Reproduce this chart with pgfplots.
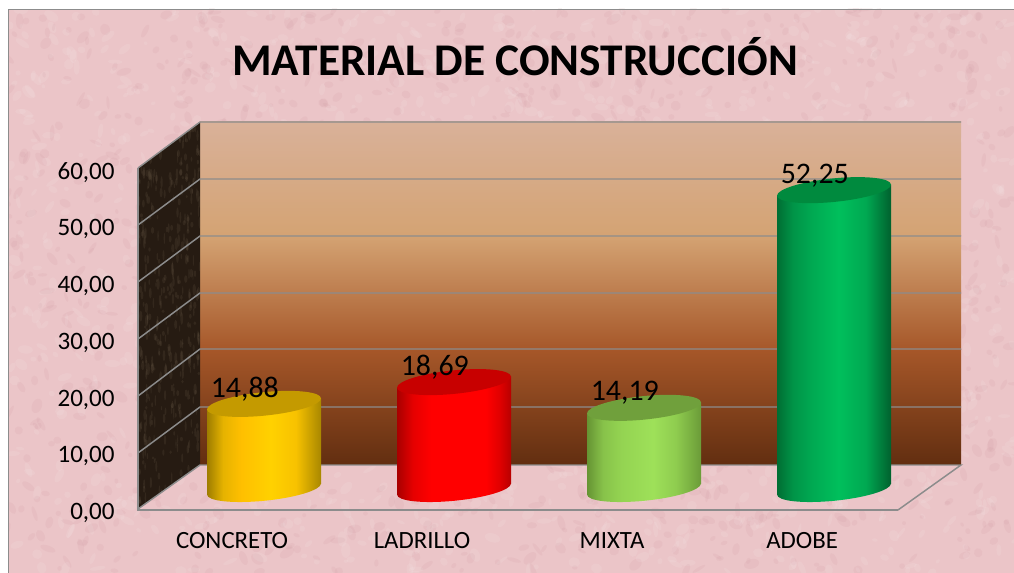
\documentclass[border=0pt]{standalone}
\usepackage{pgfplots}
\pgfplotsset{compat=1.18}
\usepackage{fontspec}
\setmainfont{Carlito}
\usetikzlibrary{shapes.geometric}
\definecolor{gridg}{HTML}{8C8C8C}
\definecolor{pinkbase}{HTML}{EBC5C8}
\definecolor{pinkdark}{HTML}{C48A92}
\definecolor{wallfleck}{HTML}{7A6A55}
\pgfdeclarehorizontalshading{cylgold}{100bp}{rgb(0bp)=(0.62,0.49,0);rgb(25bp)=(0.62,0.49,0);rgb(32bp)=(0.90,0.70,0);rgb(40bp)=(1,0.75,0);rgb(53bp)=(1,0.82,0);rgb(64bp)=(0.97,0.76,0);rgb(75bp)=(0.66,0.53,0);rgb(100bp)=(0.66,0.53,0)}
\pgfdeclarehorizontalshading{cylred}{100bp}{rgb(0bp)=(0.66,0,0);rgb(25bp)=(0.66,0,0);rgb(32bp)=(0.90,0,0);rgb(40bp)=(1,0,0);rgb(64bp)=(1,0,0);rgb(70bp)=(0.88,0,0);rgb(75bp)=(0.72,0,0);rgb(100bp)=(0.72,0,0)}
\pgfdeclarehorizontalshading{cyllime}{100bp}{rgb(0bp)=(0.40,0.58,0.20);rgb(25bp)=(0.40,0.58,0.20);rgb(32bp)=(0.53,0.76,0.29);rgb(40bp)=(0.58,0.83,0.32);rgb(54bp)=(0.62,0.88,0.35);rgb(64bp)=(0.56,0.80,0.31);rgb(75bp)=(0.42,0.61,0.22);rgb(100bp)=(0.42,0.61,0.22)}
\pgfdeclarehorizontalshading{cylgreen}{100bp}{rgb(0bp)=(0,0.43,0.20);rgb(25bp)=(0,0.43,0.20);rgb(32bp)=(0,0.58,0.28);rgb(40bp)=(0,0.66,0.32);rgb(52bp)=(0,0.75,0.36);rgb(64bp)=(0,0.66,0.32);rgb(75bp)=(0,0.38,0.18);rgb(100bp)=(0,0.38,0.18)}
\definecolor{capgold}{RGB}{196,154,0}
\definecolor{capred}{RGB}{200,0,0}
\definecolor{caplime}{RGB}{112,160,60}
\definecolor{capgreen}{RGB}{0,138,62}
\definecolor{wallA}{RGB}{217,177,153}
\definecolor{wallB}{RGB}{212,163,115}
\definecolor{wallC}{RGB}{166,87,41}
\definecolor{wallD}{RGB}{98,46,16}
\definecolor{wallL}{RGB}{38,27,18}
\pgfplotsset{
  body/.style 2 args={ybar, bar width=85.5pt, bar shift=0pt, draw=none, shade, shading=#1, yshift=-#2pt, yslant=0.0965, forget plot},
  bottomcap/.style 2 args={only marks, mark=none, forget plot, yshift=-#2pt, yslant=0.0965, nodes near coords={},
     every node near coord/.style={anchor=center, ellipse, inner sep=0pt, minimum width=85.5pt, minimum height=17.7pt, transform shape, shade, shading=#1, draw=none}},
  topcap/.style 2 args={only marks, mark=none, forget plot, yshift=-#2pt, yslant=0.0965, nodes near coords={},
     every node near coord/.style={anchor=center, ellipse, inner sep=0pt, minimum width=85.5pt, minimum height=17.7pt, transform shape, fill=#1, draw=none}},
  vallabel/.style={only marks, mark=none, forget plot, nodes near coords,
     /pgf/number format/fixed, /pgf/number format/fixed zerofill, /pgf/number format/precision=2, /pgf/number format/use comma,
     /pgf/number format/assume math mode=true,
     nodes near coords style={anchor=center, font=\fontsize{22.4}{24}\selectfont, text=black, xshift=-14.4pt, yshift=11pt}},
}
\begin{document}
\begin{tikzpicture}
\begin{scope}[x=0.75pt,y=-0.75pt]
  \useasboundingbox (0,0) rectangle (1014,573);
  \fill[white] (0,0) rectangle (1014,573);
  \fill[pinkbase] (8,9) rectangle (1014,573);
  \begin{scope}
    \clip (8,9) rectangle (1014,573);
    \pgfmathsetseed{4217}
    \foreach \i in {1,...,2800}{
      \pgfmathsetmacro{\xx}{8+1006*rnd}
      \pgfmathsetmacro{\yy}{9+564*rnd}
      \pgfmathsetmacro{\ra}{2+6*rnd}
      \pgfmathsetmacro{\rb}{1.5+3.5*rnd}
      \pgfmathsetmacro{\rt}{180*rnd}
      \pgfmathsetmacro{\cc}{rnd}
      \ifdim\cc pt<0.5pt
        \fill[white,opacity=0.09,rotate around={\rt:(\xx,\yy)}] (\xx,\yy) ellipse [x radius=\ra, y radius=\rb];
      \else
        \fill[pinkdark,opacity=0.10,rotate around={\rt:(\xx,\yy)}] (\xx,\yy) ellipse [x radius=\ra, y radius=\rb];
      \fi
    }
  \end{scope}
  \draw[gridg,line width=0.8pt] (8.5,573) -- (8.5,9.5) -- (1014,9.5);
  % back wall
  \shade[top color=wallA,bottom color=wallB] (200,122) rectangle (961,236);
  \shade[top color=wallB,bottom color=wallC] (200,235.5) rectangle (961,350);
  \shade[top color=wallC,bottom color=wallD] (200,349.5) rectangle (961,465);
  % left wall
  \fill[wallL] (138,168) -- (200,122) -- (200,465) -- (138,509) -- cycle;
  \begin{scope}
    \clip (138,168) -- (200,122) -- (200,465) -- (138,509) -- cycle;
    \pgfmathsetseed{77}
    \foreach \i in {1,...,420}{
      \pgfmathsetmacro{\xx}{138+62*rnd}
      \pgfmathsetmacro{\yy}{122+387*rnd}
      \pgfmathsetmacro{\rb}{1.5+5*rnd}
      \pgfmathsetmacro{\ra}{0.5+1.2*rnd}
      \fill[wallfleck,opacity=0.16] (\xx,\yy) ellipse [x radius=\ra, y radius=\rb];
    }
  \end{scope}
  % grid on walls
  \foreach \yf/\yb in {168/122,225/179,282/236,339/293,396/349,453/407}{
    \draw[gridg,line width=1.1pt] (138,\yf) -- (200,\yb) -- (961,\yb);
  }
  \draw[gridg,line width=1.1pt] (138,509) -- (200,465) -- (961,465) -- (898,510);
  \draw[gridg,line width=1.1pt] (138,168) -- (138,510) -- (898,510);
  \node[font=\fontsize{34}{38}\selectfont\bfseries,text=black,anchor=center] at (515,57) {MATERIAL DE CONSTRUCCIÓN};
\end{scope}
% axis of the front plane: scale and category names
\begin{axis}[
  at={(103.5pt,-381.75pt)}, anchor=south west,
  scale only axis, width=570pt, height=255.75pt,
  xmin=-0.5, xmax=3.5, ymin=0, ymax=60,
  axis line style={draw=none},
  xtick={0,1,2,3}, xticklabels={CONCRETO,LADRILLO,MIXTA,ADOBE},
  ytick={0,10,20,30,40,50,60},
  tick style={draw=none},
  axis x line*=bottom, axis y line*=left,
  /pgf/number format/fixed, /pgf/number format/fixed zerofill, /pgf/number format/precision=2, /pgf/number format/use comma,
  /pgf/number format/assume math mode=true,
  y tick label style={font=\fontsize{18.8}{20}\selectfont, xshift=-14pt, yshift=-3.2pt},
  x tick label style={font=\fontsize{18.6}{20}\selectfont, xshift=-0.7pt, yshift=-14pt},
]
\end{axis}
% cylinders: same scale, set back on the floor
\begin{axis}[
  at={(126.75pt,-366.75pt)}, anchor=south west,
  scale only axis, width=570pt, height=257.4pt,
  xmin=-0.5, xmax=3.5, ymin=0, ymax=60,
  hide axis, clip=false,
]
\addplot[bottomcap={cylgold}{6.876}] coordinates {(0,0)};
\addplot[body={cylgold}{6.876}] coordinates {(0,14.88)};
\addplot[topcap={capgold}{6.876}] coordinates {(0,14.88)};
\addplot[vallabel] coordinates {(0,14.88)};
\addplot[bottomcap={cylred}{20.63}] coordinates {(1,0)};
\addplot[body={cylred}{20.63}] coordinates {(1,18.69)};
\addplot[topcap={capred}{20.63}] coordinates {(1,18.69)};
\addplot[vallabel] coordinates {(1,18.69)};
\addplot[bottomcap={cyllime}{34.38}] coordinates {(2,0)};
\addplot[body={cyllime}{34.38}] coordinates {(2,14.19)};
\addplot[topcap={caplime}{34.38}] coordinates {(2,14.19)};
\addplot[vallabel] coordinates {(2,14.19)};
\addplot[bottomcap={cylgreen}{48.13}] coordinates {(3,0)};
\addplot[body={cylgreen}{48.13}] coordinates {(3,52.25)};
\addplot[topcap={capgreen}{48.13}] coordinates {(3,52.25)};
\addplot[vallabel] coordinates {(3,52.25)};
\end{axis}
\end{tikzpicture}
\end{document}
